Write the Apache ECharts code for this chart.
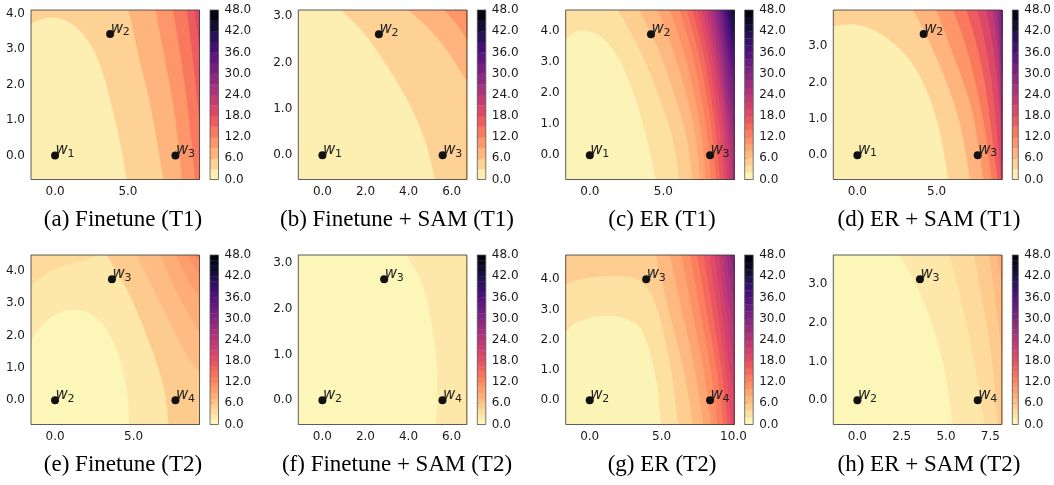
<!DOCTYPE html>
<html><head><meta charset="utf-8">
<script src="https://cdn.jsdelivr.net/npm/echarts@6/dist/echarts.min.js"></script>
<style>html,body{margin:0;padding:0;background:#fff}#c{width:1054px;height:485px}</style>
</head><body><div id="c"></div>
<script>
// ---------------- DATA ----------------
const captions = ['(a) Finetune (T1)','(b) Finetune + SAM (T1)','(c) ER (T1)','(d) ER + SAM (T1)',
                  '(e) Finetune (T2)','(f) Finetune + SAM (T2)','(g) ER (T2)','(h) ER + SAM (T2)'];
const pointNamesT1 = ['1','2','3'];
const pointNamesT2 = ['2','3','4'];

// (a)
const pointsA = [[0,0],[3.78,3.42],[8.26,0]];
const xRangeA = [-1.65,9.91], yRangeA = [-0.68,4.10];
const xTicksA = [0,5], yTicksA = [0,1,2,3,4];
const stepA = 3;
const levelsA = [3,6,9,12,15,18];
const linesA = [
  [[-1.65,3.72],[-0.6,3.88],[0.5,3.84],[1.5,3.6],[2.55,3.05],[3.3,2.3],[3.9,1.4],[4.45,0.4],[4.93,-0.68]],
  [[5.05,4.10],[5.75,2.8],[6.6,1.3],[7.45,-0.68]],
  [[6.9,4.10],[7.55,2.7],[8.2,1.2],[8.72,-0.68]],
  [[8.1,4.10],[8.65,2.7],[9.15,1.2],[9.63,-0.68]],
  [[9.05,4.10],[9.5,2.6],[9.91,1.0]],
  [[9.6,4.10],[9.91,3.0]]
];
// (b)
const pointsB = [[0,0],[2.62,2.61],[5.58,0]];
const xRangeB = [-1.12,6.70], yRangeB = [-0.52,3.13];
const xTicksB = [0,2,4,6], yTicksB = [0,1,2,3];
const stepB = 3;
const levelsB = [3,6,9];
const linesB = [
  [[0.88,3.13],[1.95,2.62],[2.9,2.0],[3.7,1.4],[4.35,0.8],[4.85,0.2],[5.22,-0.52]],
  [[3.98,3.13],[4.9,2.75],[5.8,2.25],[6.70,1.6]],
  [[5.65,3.13],[6.2,2.85],[6.70,2.5]]
];
// (c)
const pointsC = [[0,0],[4.16,3.89],[8.18,0]];
const xRangeC = [-1.64,9.82], yRangeC = [-0.78,4.67];
const xTicksC = [0,5], yTicksC = [0,1,2,3,4];
const stepC = 2;
const levelsC = [2,4,6,8,10,12,14,16,18,20,22,24,26,28,30,32,34,36,38,40,42,44];
const linesC = [
  [[-1.64,3.73],[-1.0,3.96],[-0.5,4.02],[0.2,3.96],[1.0,3.72],[1.8,3.25],[2.5,2.6],[3.1,1.85],[3.6,1.05],[4.05,0.2],[4.5,-0.78]],
  [[1.93,4.67],[3.39,3.4],[4.64,2.0],[5.6,0.6],[6.1,-0.78]],
  [[3.4,4.67],[4.66,3.4],[5.74,2.0],[6.57,0.6],[7.0,-0.78]],
  [[4.6,4.67],[5.65,3.4],[6.55,2.0],[7.2,0.6],[7.5,-0.78]],
  [[5.45,4.67],[6.36,3.4],[7.1,2.0],[7.62,0.6],[7.9,-0.78]],
  [[6.1,4.67],[6.9,3.4],[7.55,2.0],[8.0,0.6],[8.25,-0.78]],
  [[6.6,4.67],[7.34,3.4],[7.93,2.0],[8.35,0.6],[8.6,-0.78]],
  [[7.0,4.67],[7.68,3.4],[8.22,2.0],[8.62,0.6],[8.86,-0.78]],
  [[7.35,4.67],[7.98,3.4],[8.5,2.0],[8.9,0.6],[9.13,-0.78]],
  [[7.65,4.67],[8.24,3.4],[8.74,2.0],[9.12,0.6],[9.33,-0.78]],
  [[7.92,4.67],[8.47,3.4],[8.95,2.0],[9.33,0.6],[9.54,-0.78]],
  [[8.15,4.67],[8.66,3.4],[9.1,2.0],[9.5,0.6],[9.75,-0.78]],
  [[8.37,4.67],[8.84,3.4],[9.25,2.0],[9.6,0.9],[9.82,0.3]],
  [[8.57,4.67],[9.02,3.4],[9.42,2.0],[9.82,0.9]],
  [[8.75,4.67],[9.18,3.4],[9.58,2.1],[9.82,1.6]],
  [[8.92,4.67],[9.33,3.4],[9.65,2.6],[9.82,2.2]],
  [[9.08,4.67],[9.45,3.5],[9.82,2.75]],
  [[9.22,4.67],[9.55,3.7],[9.82,3.2]],
  [[9.36,4.67],[9.62,3.9],[9.82,3.55]],
  [[9.5,4.67],[9.68,4.15],[9.82,3.9]],
  [[9.63,4.67],[9.82,4.2]],
  [[9.76,4.67],[9.82,4.5]]
];
// (d)
const pointsD = [[0,0],[4.18,3.33],[7.59,0]];
const xRangeD = [-1.52,9.11], yRangeD = [-0.67,3.99];
const xTicksD = [0,5], yTicksD = [0,1,2,3];
const stepD = 3;
const levelsD = [3,6,9,12,15,18,21,24,27,30];
const linesD = [
  [[-1.52,3.55],[-0.5,3.6],[0.6,3.52],[1.6,3.3],[2.6,2.95],[3.5,2.5],[4.3,1.85],[4.85,1.2],[5.3,0.45],[5.74,-0.67]],
  [[3.52,3.99],[4.35,3.3],[5.35,2.3],[6.2,1.3],[6.75,0.3],[7.11,-0.67]],
  [[5.0,3.99],[5.85,3.0],[6.7,2.0],[7.35,1.0],[7.95,-0.67]],
  [[6.05,3.99],[6.85,3.0],[7.55,1.8],[8.05,0.7],[8.48,-0.67]],
  [[6.9,3.99],[7.55,3.0],[8.15,1.7],[8.84,-0.67]],
  [[7.6,3.99],[8.15,2.9],[8.6,1.6],[9.08,-0.67]],
  [[8.15,3.99],[8.6,2.9],[8.95,1.5],[9.11,-0.2]],
  [[8.55,3.99],[8.9,2.8],[9.11,1.0]],
  [[8.85,3.99],[9.11,2.2]],
  [[9.05,3.99],[9.11,3.3]]
];
// (e)
const pointsE = [[0,0],[3.62,3.74],[7.66,0]];
const xRangeE = [-1.53,9.19], yRangeE = [-0.75,4.49];
const xTicksE = [0,5], yTicksE = [0,1,2,3,4];
const stepE = 1.5;
const levelsE = [1.5,3,4.5,6,7.5,9,10.5,12];
const linesE = [
  [[-1.53,1.87],[-0.8,2.35],[0.2,2.7],[1.3,2.8],[2.3,2.65],[3.2,2.25],[3.9,1.6],[4.4,0.8],[4.65,0.0],[4.74,-0.75]],
  [[-1.53,3.55],[-0.5,3.95],[0.8,4.2],[2.0,4.35],[2.7,4.49]],
  [[3.3,4.49],[4.6,3.4],[5.6,2.3],[6.5,1.1],[7.0,0.2],[7.23,-0.75]],
  [[5.2,4.49],[6.4,3.3],[7.5,2.2],[8.5,1.3],[9.19,0.9]],
  [[6.7,4.49],[7.7,3.4],[8.6,2.6],[9.19,2.1]],
  [[7.7,4.49],[8.5,3.7],[9.19,3.2]],
  [[8.4,4.49],[9.19,3.9]],
  [[8.9,4.49],[9.19,4.3]]
];
// (f)
const pointsF = [[0,0],[2.87,2.65],[5.58,0]];
const xRangeF = [-1.12,6.71], yRangeF = [-0.53,3.18];
const xTicksF = [0,2,4,6], yTicksF = [0,1,2,3];
const stepF = 1.5;
const levelsF = [1.5];
const linesF = [
  [[3.91,3.18],[4.6,2.6],[5.0,1.9],[5.25,1.1],[5.35,0.4],[5.3,-0.53]]
];
// (g)
const pointsG = [[0,0],[3.93,4.0],[8.37,0]];
const xRangeG = [-1.67,10.05], yRangeG = [-0.8,4.8];
const xTicksG = [0,5,10], yTicksG = [0,1,2,3,4];
const stepG = 2;
const levelsG = [2,4,6,8,10,12,14,16,18,20,22,24,26,28];
const linesG = [
  [[-1.67,2.27],[-1.0,2.55],[0,2.72],[1.2,2.8],[2.4,2.72],[3.4,2.45],[4.0,1.9],[4.45,1.1],[4.75,0.3],[4.95,-0.8]],
  [[-1.67,3.85],[-0.5,4.02],[1.0,4.1],[2.5,4.1],[3.5,3.95],[4.3,3.5],[4.9,2.7],[5.4,1.7],[5.8,0.6],[6.16,-0.8]],
  [[4.6,4.8],[5.5,3.0],[6.55,1.0],[7.2,-0.8]],
  [[5.6,4.8],[6.4,3.0],[7.33,1.0],[7.9,-0.8]],
  [[6.4,4.8],[7.12,3.0],[7.94,1.0],[8.45,-0.8]],
  [[7.0,4.8],[7.67,3.0],[8.43,1.0],[8.9,-0.8]],
  [[7.5,4.8],[8.13,3.0],[8.85,1.0],[9.3,-0.8]],
  [[7.95,4.8],[8.53,3.0],[9.19,1.0],[9.6,-0.8]],
  [[8.35,4.8],[8.88,3.0],[9.48,1.0],[9.85,-0.8]],
  [[8.7,4.8],[9.2,3.0],[9.7,1.2],[10.05,0.2]],
  [[9.0,4.8],[9.5,3.0],[10.05,1.2]],
  [[9.25,4.8],[9.72,3.2],[10.05,2.3]],
  [[9.5,4.8],[9.85,3.8],[10.05,3.3]],
  [[9.75,4.8],[10.05,4.2]]
];
// (h)
const pointsH = [[0,0],[3.53,3.13],[6.79,0]];
const xRangeH = [-1.36,8.15], yRangeH = [-0.63,3.76];
const xTicksH = [0,2.5,5,7.5], yTicksH = [0,1,2,3];
const stepH = 1.5;
const levelsH = [1.5,3,4.5,6,7.5];
const linesH = [
  [[2.4,3.76],[3.3,3.0],[4.05,2.2],[4.65,1.3],[5.05,0.5],[5.38,-0.63]],
  [[5.2,3.76],[5.75,2.8],[6.3,1.7],[6.8,0.5],[7.2,-0.63]],
  [[6.6,3.76],[7.0,2.7],[7.5,1.4],[7.95,-0.63]],
  [[7.45,3.76],[7.85,2.4],[8.15,1.2]],
  [[7.9,3.76],[8.15,3.0]]
];

// ---------------- STYLE / LAYOUT ----------------
const magmaStops = ['#000004','#07061c','#140e36','#251255','#3b0f70','#51127c','#641a80','#782281',
  '#8c2981','#a1307e','#b73779','#cb3e71','#de4968','#ec5860','#f7705c','#fc8961','#fe9f6d',
  '#feb77e','#fecf92','#fde7a9','#fcfdbf'];
function hex2rgb(h){return [parseInt(h.substr(1,2),16),parseInt(h.substr(3,2),16),parseInt(h.substr(5,2),16)];}
function magmaR(t){
  t = Math.max(0, Math.min(1, t));
  const u = (1 - t) * (magmaStops.length - 1);
  const i = Math.min(Math.floor(u), magmaStops.length - 2);
  const f = u - i;
  const a = hex2rgb(magmaStops[i]), b = hex2rgb(magmaStops[i + 1]);
  const c = a.map((v, k) => Math.round(v + (b[k] - v) * f));
  return 'rgb(' + c.join(',') + ')';
}
const VMAX = 48;

const panelList = [
  {pts: pointsA, xr: xRangeA, yr: yRangeA, xt: xTicksA, yt: yTicksA, step: stepA, lv: levelsA, ln: linesA, nm: pointNamesT1},
  {pts: pointsB, xr: xRangeB, yr: yRangeB, xt: xTicksB, yt: yTicksB, step: stepB, lv: levelsB, ln: linesB, nm: pointNamesT1},
  {pts: pointsC, xr: xRangeC, yr: yRangeC, xt: xTicksC, yt: yTicksC, step: stepC, lv: levelsC, ln: linesC, nm: pointNamesT1},
  {pts: pointsD, xr: xRangeD, yr: yRangeD, xt: xTicksD, yt: yTicksD, step: stepD, lv: levelsD, ln: linesD, nm: pointNamesT1},
  {pts: pointsE, xr: xRangeE, yr: yRangeE, xt: xTicksE, yt: yTicksE, step: stepE, lv: levelsE, ln: linesE, nm: pointNamesT2},
  {pts: pointsF, xr: xRangeF, yr: yRangeF, xt: xTicksF, yt: yTicksF, step: stepF, lv: levelsF, ln: linesF, nm: pointNamesT2},
  {pts: pointsG, xr: xRangeG, yr: yRangeG, xt: xTicksG, yt: yTicksG, step: stepG, lv: levelsG, ln: linesG, nm: pointNamesT2},
  {pts: pointsH, xr: xRangeH, yr: yRangeH, xt: xTicksH, yt: yTicksH, step: stepH, lv: levelsH, ln: linesH, nm: pointNamesT2}
];

const colLeft = [31, 298.3, 565.7, 833.3];
const rowTop = [10, 255];
const plotW = 168.5, plotH = 169.5, cbarOff = 179, cbarW = 8.5;
const capX = [123, 397, 662, 929];
const capY = [220, 465];
const TXT = '#1a1a1a';
const FONT = 'DejaVu Sans';
const FS = 12;

function catmull(pts){
  if (pts.length < 3) return pts.slice();
  const out = [];
  const n = pts.length;
  for (let i = 0; i < n - 1; i++) {
    const p0 = pts[Math.max(i - 1, 0)], p1 = pts[i], p2 = pts[i + 1], p3 = pts[Math.min(i + 2, n - 1)];
    for (let k = 0; k < 12; k++) {
      const t = k / 12, t2 = t * t, t3 = t2 * t;
      const f = j => 0.5 * (2 * p1[j] + (-p0[j] + p2[j]) * t + (2 * p0[j] - 5 * p1[j] + 4 * p2[j] - p3[j]) * t2 + (-p0[j] + 3 * p1[j] - 3 * p2[j] + p3[j]) * t3);
      out.push([f(0), f(1)]);
    }
  }
  out.push(pts[n - 1]);
  return out;
}
function perim(p, r){
  const dt = p[1] - r.y, db = r.y + r.height - p[1], dl = p[0] - r.x, dr = r.x + r.width - p[0];
  const m = Math.min(dt, db, dl, dr);
  if (m === dt) return Math.max(0, Math.min(1, (p[0] - r.x) / r.width));
  if (m === dr) return 1 + Math.max(0, Math.min(1, (p[1] - r.y) / r.height));
  if (m === db) return 2 + Math.max(0, Math.min(1, (r.x + r.width - p[0]) / r.width));
  return 3 + Math.max(0, Math.min(0.999, (r.y + r.height - p[1]) / r.height));
}

const grids = [], xAxes = [], yAxes = [], series = [], graphics = [];

panelList.forEach((P, i) => {
  const col = i % 4, row = Math.floor(i / 4);
  const gl = colLeft[col], gt = rowTop[row];
  grids.push({left: gl, top: gt, width: plotW, height: plotH});
  grids.push({left: gl + cbarOff, top: gt, width: cbarW, height: plotH});
  const gPlot = 2 * i, gBar = 2 * i + 1;
  xAxes.push({type: 'value', gridIndex: gPlot, min: P.xr[0], max: P.xr[1],
    axisLine: {show: false}, splitLine: {show: false},
    axisTick: {show: true, customValues: P.xt, length: 3.5, lineStyle: {color: TXT, width: 0.8}},
    axisLabel: {customValues: P.xt, formatter: v => Number(v).toFixed(1), fontSize: FS, fontFamily: FONT, color: TXT, margin: 6}});
  yAxes.push({type: 'value', gridIndex: gPlot, min: P.yr[0], max: P.yr[1],
    axisLine: {show: false}, splitLine: {show: false},
    axisTick: {show: true, customValues: P.yt, length: 3.5, lineStyle: {color: TXT, width: 0.8}},
    axisLabel: {customValues: P.yt, formatter: v => Number(v).toFixed(1), fontSize: FS, fontFamily: FONT, color: TXT, margin: 6}});
  xAxes.push({type: 'value', gridIndex: gBar, min: 0, max: 1, show: false});
  yAxes.push({type: 'value', gridIndex: gBar, min: 0, max: VMAX, interval: 6, position: 'right',
    axisLine: {show: false}, splitLine: {show: false},
    axisTick: {show: true, length: 3.5, lineStyle: {color: TXT, width: 0.8}},
    axisLabel: {formatter: v => Number(v).toFixed(1), fontSize: FS, fontFamily: FONT, color: TXT, margin: 6}});
  const xi = xAxes.length - 2, yi = yAxes.length - 2;
  const xbi = xAxes.length - 1, ybi = yAxes.length - 1;

  // filled contour regions
  const regionLevels = [0].concat(P.lv);
  series.push({
    type: 'custom', xAxisIndex: xi, yAxisIndex: yi, clip: true, z: 1, silent: true,
    data: regionLevels.map((L, k) => [k]),
    renderItem: (params, api) => {
      const k = params.dataIndex;
      const r = params.coordSys;
      const L = regionLevels[k];
      const fill = magmaR((L + P.step / 2) / VMAX);
      if (k === 0) {
        return {type: 'rect', shape: {x: r.x, y: r.y, width: r.width, height: r.height}, style: {fill: fill}};
      }
      const px = P.ln[k - 1].map(p => api.coord(p));
      const curve = catmull(px);
      const E = 30;
      const corners = [[r.x - E, r.y - E], [r.x + r.width + E, r.y - E], [r.x + r.width + E, r.y + r.height + E], [r.x - E, r.y + r.height + E]];
      let ps = perim(px[0], r), pe = perim(px[px.length - 1], r);
      if (ps >= pe) ps -= 4;
      const poly = curve.slice();
      for (let c = Math.floor(pe); c > ps; c--) poly.push(corners[((c % 4) + 4) % 4]);
      return {type: 'polygon', shape: {points: poly}, style: {fill: fill, stroke: fill, lineWidth: 0.3}};
    }
  });
  // frame
  series.push({
    type: 'custom', xAxisIndex: xi, yAxisIndex: yi, z: 3, silent: true, data: [[0]],
    renderItem: (params, api) => {
      const a = api.coord([P.xr[0], P.yr[1]]), b = api.coord([P.xr[1], P.yr[0]]);
      return {type: 'rect', shape: {x: a[0], y: a[1], width: b[0] - a[0], height: b[1] - a[1]},
        style: {fill: 'none', stroke: '#333', lineWidth: 0.8}};
    }
  });
  // points
  series.push({type: 'scatter', xAxisIndex: xi, yAxisIndex: yi, z: 4, symbolSize: 8, silent: true,
    itemStyle: {color: '#111', opacity: 1}, data: P.pts});
  // point labels
  series.push({
    type: 'custom', xAxisIndex: xi, yAxisIndex: yi, z: 5, silent: true, data: P.pts,
    renderItem: (params, api) => {
      const c = api.coord([api.value(0), api.value(1)]);
      return {type: 'group', children: [
        {type: 'text', x: c[0] + 0.5, y: c[1] - 5, style: {text: 'w', font: 'italic 15px "DejaVu Sans"', fill: '#222', align: 'left', verticalAlign: 'middle'}},
        {type: 'text', x: c[0] + 12.5, y: c[1] - 1.5, style: {text: P.nm[params.dataIndex], font: '11px "DejaVu Sans"', fill: '#222', align: 'left', verticalAlign: 'middle'}}
      ]};
    }
  });
  // colorbar
  const bands = [];
  for (let v = 0; v < VMAX - 1e-9; v += P.step) bands.push([v, v + P.step]);
  series.push({
    type: 'custom', xAxisIndex: xbi, yAxisIndex: ybi, z: 1, silent: true, data: bands,
    renderItem: (params, api) => {
      const lo = api.value(0), hi = api.value(1);
      const a = api.coord([0, hi]), b = api.coord([1, lo]);
      const col = magmaR((lo + hi) / 2 / VMAX);
      return {type: 'rect', shape: {x: a[0], y: a[1], width: b[0] - a[0], height: b[1] - a[1] + 0.3},
        style: {fill: col}};
    }
  });
  series.push({
    type: 'custom', xAxisIndex: xbi, yAxisIndex: ybi, z: 3, silent: true, data: [[0, 0]],
    renderItem: (params, api) => {
      const a = api.coord([0, VMAX]), b = api.coord([1, 0]);
      return {type: 'rect', shape: {x: a[0], y: a[1], width: b[0] - a[0], height: b[1] - a[1]},
        style: {fill: 'none', stroke: '#555', lineWidth: 0.8}};
    }
  });
  graphics.push({type: 'text', x: capX[col], y: capY[row],
    style: {text: captions[i], font: '23px "Liberation Serif"', fill: '#000', align: 'center', verticalAlign: 'middle'}});
});

const chart = echarts.init(document.getElementById('c'), null, {renderer: 'canvas'});
chart.setOption({
  animation: false,
  backgroundColor: '#fff',
  grid: grids, xAxis: xAxes, yAxis: yAxes, series: series, graphic: graphics
});
</script>
</body></html>
